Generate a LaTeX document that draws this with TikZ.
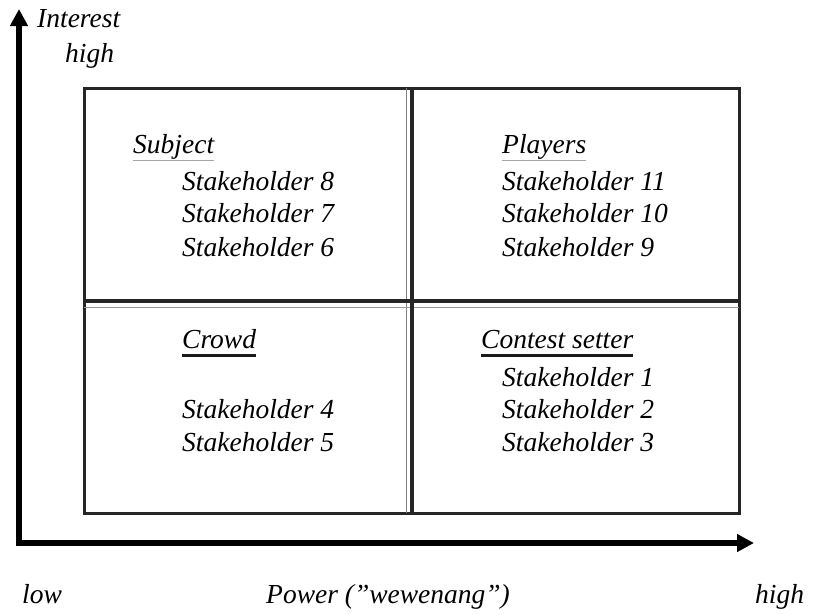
\documentclass[tikz,border=0pt]{standalone}
\usepackage{fontspec}
\setmainfont{Liberation Serif}
\usetikzlibrary{arrows.meta,positioning}

\begin{document}
\begin{tikzpicture}[x=1pt,y=-1pt,
  lbl/.style={anchor=base west,inner sep=0pt,font=\fontsize{27.5}{32}\selectfont\itshape},
  axis/.style={line width=5.5pt,-{Triangle[length=17pt,width=17pt]}}]

\useasboundingbox (0,0) rectangle (818,614);

%Box corners
\def\xl{84}
\def\xr{739}
\def\yt{88}
\def\yb{513}
\coordinate (O) at (19,543);
\coordinate (Y) at (19,9);
\coordinate (X) at (754,543);

%Drawing axes
\draw[axis] ([yshift=-2.75pt]O) -- (Y);
\draw[axis] ([xshift=-2.75pt]O) -- (X);

%Drawing the grid
\draw[line width=3pt,black!85] (\xl,\yt) rectangle (\xr,\yb);
\draw[line width=1.5pt,black!50] (406.5,\yt) -- (406.5,\yb);
\draw[line width=1pt,black!40] (\xl,307) -- (\xr,307);
\draw[line width=3.2pt,black!85] (\xl,301) -- (\xr,301);
\draw[line width=3.2pt,black!85] (412,\yt) -- (412,\yb);

%Axis labels
\node[lbl] (int) at (37,27) {Interest};
\node[lbl] (ihigh) at (65,62) {high};
\node[lbl] (low) at (22,603) {low};
\node[lbl] (pow) at (266,603) {Power (”wewenang”)};
\node[lbl] (phigh) at (755,603) {high};

%Quadrant titles
\node[lbl] (subj) at (133,153) {Subject};
\node[lbl] (play) at (502,153) {Players};
\node[lbl] (crowd) at (182,348) {Crowd};
\node[lbl] (cont) at (481,348) {Contest setter};
\draw[black!35,line width=1pt] ([yshift=-7pt]subj.base west) -- ([yshift=-7pt]subj.base east);
\draw[black!35,line width=1pt] ([yshift=-7pt]play.base west) -- ([yshift=-7pt]play.base east);
\draw[black!90,line width=3pt] ([yshift=-7pt]crowd.base west) -- ([yshift=-7pt]crowd.base east);
\draw[black!90,line width=3pt] ([yshift=-7pt]cont.base west) -- ([yshift=-7pt]cont.base east);

%Stakeholders
\node[lbl] (s8) at (182,190) {Stakeholder 8};
\node[lbl] (s7) at (182,222) {Stakeholder 7};
\node[lbl] (s6) at (182,256) {Stakeholder 6};
\node[lbl] (s11) at (502,190) {Stakeholder 11};
\node[lbl] (s10) at (502,222) {Stakeholder 10};
\node[lbl] (s9) at (502,256) {Stakeholder 9};
\node[lbl] (s4) at (182,418) {Stakeholder 4};
\node[lbl] (s5) at (182,451) {Stakeholder 5};
\node[lbl] (s1) at (502,386) {Stakeholder 1};
\node[lbl] (s2) at (502,418) {Stakeholder 2};
\node[lbl] (s3) at (502,451) {Stakeholder 3};

\end{tikzpicture}
\end{document}
